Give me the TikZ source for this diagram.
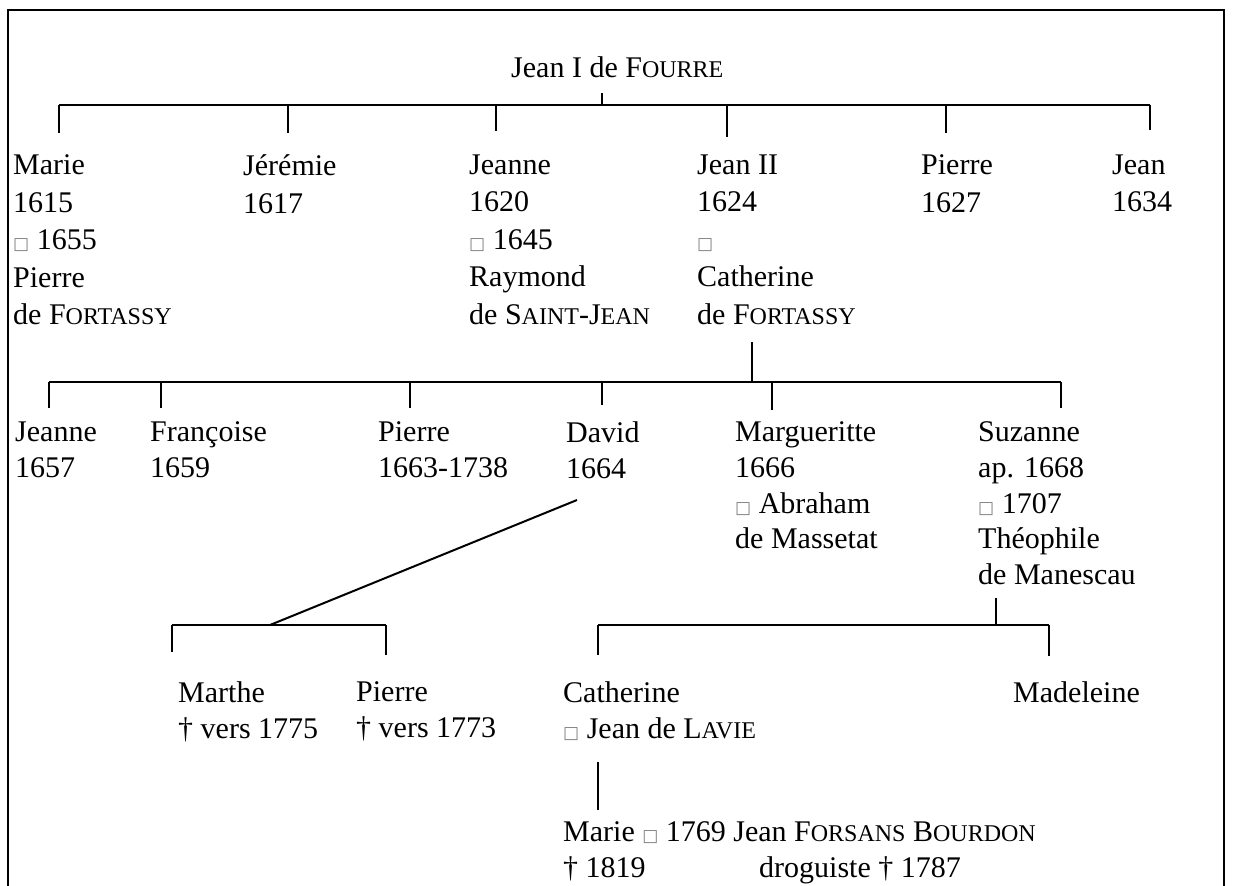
\documentclass[tikz,border=0pt]{standalone}
\usepackage{fontspec}
\setmainfont{Liberation Serif}
\newfontfamily\boxfont{DejaVu Sans}
% marriage sign, printed as an empty box
\newcommand{\wed}{{\boxfont\fontsize{17}{17}\selectfont\color{gray}□}}
% small capitals, faked
\newcommand{\smc}[1]{{\fontsize{24}{24}\selectfont #1}}
\tikzset{
  kid/.style={inner sep=0pt,anchor=north west,align=left,yshift=20.5pt,
    font=\fontsize{30}{#1}\selectfont},
  kid/.default=36.5,
  link/.style={line width=2pt}
}
\begin{document}
\begin{tikzpicture}[x=1pt,y=-1pt]
      \useasboundingbox (0,0) rectangle (1234,886);
      \coordinate (fbl) at (8,890);
      \coordinate (ftr) at (1224,10);
      \coordinate (fbr) at (1224,890);
      \draw[line width=2pt] (fbl) |- (ftr) -- (fbr);
      % first generation
      \node[kid] (jean1) at (511,77) {Jean I de F\smc{OURRE}};
      \node[kid=37.5] (marie) at (13,175) {Marie\\1615\\\wed{} 1655\\Pierre\\de F\smc{ORTASSY}};
      \node[kid=37.5] (jeremie) at (243,175) {Jérémie\\1617};
      \node[kid=37.5] (jeanne) at (469,175) {Jeanne\\1620\\\wed{} 1645\\Raymond\\de S\smc{AINT}-J\smc{EAN}};
      \node[kid=37.5] (jean2) at (697,175) {Jean II\\1624\\\wed\\Catherine\\de F\smc{ORTASSY}};
      \node[kid=37.5] (pierre) at (921,175) {Pierre\\1627};
      \node[kid=37.5] (jean) at (1112,175) {Jean\\1634};
      % second generation
      \node[kid=35.8] (jeanne2) at (15,442) {Jeanne\\1657};
      \node[kid=35.8] (francoise) at (150,442) {Françoise\\1659};
      \node[kid=35.8] (pierre2) at (378,442) {Pierre\\1663-1738};
      \node[kid=35.8] (david) at (566,442) {David\\1664};
      \node[kid=35.8] (margueritte) at (735,442) {Margueritte\\1666\\\wed{} Abraham\\de Massetat};
      \node[kid=35.8] (suzanne) at (978,442) {Suzanne\\ap. 1668\\\wed{} 1707\\Théophile\\de Manescau};
      % third generation
      \node[kid=35.8] (marthe) at (178,702) {Marthe\\† vers 1775};
      \node[kid=35.8] (pierre3) at (356,702) {Pierre\\† vers 1773};
      \node[kid=35.8] (catherine) at (563,702) {Catherine\\\wed{} Jean de L\smc{AVIE}};
      \node[kid] (madeleine) at (1013,702) {Madeleine};
      \node[kid=35.8] (marie4) at (563,842) {Marie \wed{} 1769 Jean F\smc{ORSANS} B\smc{OURDON}\\\makebox[196pt][l]{† 1819}droguiste † 1787};
      % where the lines meet
      \coordinate (jean1-d) at (602,93);
      \coordinate (jean1-b) at (602,105);
      \coordinate (jean2-d) at (752,342);
      \coordinate (jean2-b) at (752,382);
      \coordinate (david-d) at (577,500);
      \coordinate (david-b) at (270,625);
      \coordinate (suzanne-d) at (996,598);
      \coordinate (suzanne-b) at (996,625);
      \coordinate (catherine-d) at (598,762);
      \coordinate (catherine-b) at (598,810);
      \foreach \n/\x/\y/\l in {marie/59/105/28, jeremie/288/105/28, jeanne/496/105/26,
          jean2/727/105/32, pierre/946/105/28, jean/1150/105/25,
          jeanne2/49/382/26, francoise/161/382/26, pierre2/410/382/26, david/602/382/23,
          margueritte/772/382/28, suzanne/1061/382/26,
          marthe/172/625/27, pierre3/386/625/30, catherine/598/625/30, madeleine/1049/625/31}
        {\coordinate (\n-t) at (\x,\y);
         \coordinate (\n-u) at (\x,\y+\l);}
      \begin{scope}[link]
        \draw (jean1-d) -- (jean1-b);
        \draw (marie-t) -- (jean-t);
        \draw (jean2-d) -- (jean2-b);
        \draw (jeanne2-t) -- (suzanne-t);
        \draw (david-d) -- (david-b);
        \draw (marthe-t) -- (pierre3-t);
        \draw (suzanne-d) -- (suzanne-b);
        \draw (catherine-t) -- (madeleine-t);
        \draw (catherine-d) -- (catherine-b);
        \foreach \n in {marie,jeremie,jeanne,jean2,pierre,jean,jeanne2,francoise,pierre2,
            david,margueritte,suzanne,marthe,pierre3,catherine,madeleine}
          \draw (\n-t) -- (\n-u);
      \end{scope}
    \end{tikzpicture}
\end{document}
